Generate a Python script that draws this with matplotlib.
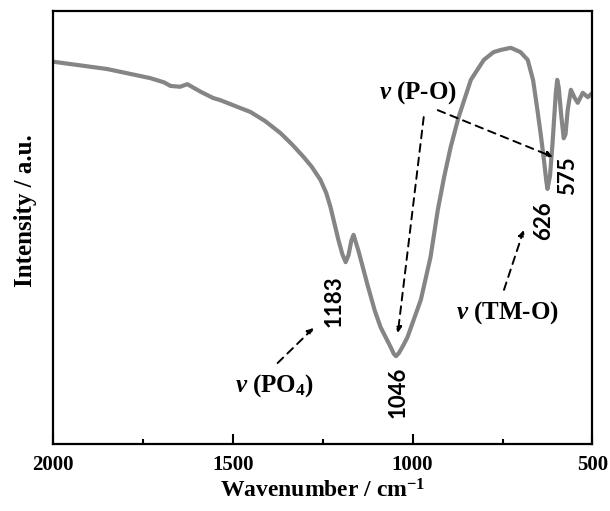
import numpy as np
import matplotlib
matplotlib.use("Agg")
from matplotlib import pyplot as plt
from matplotlib.ticker import MultipleLocator

plt.rcParams['font.family'] = 'Liberation Serif'
plt.rcParams['font.weight'] = 'bold'
plt.rcParams['axes.labelweight'] = 'bold'
plt.rcParams['mathtext.fontset'] = 'custom'
plt.rcParams['mathtext.rm'] = 'Liberation Serif:bold'
plt.rcParams['mathtext.it'] = 'Liberation Serif:italic:bold'
plt.rcParams['mathtext.bf'] = 'Liberation Serif:bold'

# FTIR spectrum, read point by point
wavenumber = [2000, 1849, 1729, 1690, 1673, 1646, 1626, 1590, 1554, 1534, 1479, 1451,
              1410, 1367, 1335, 1303, 1280, 1256, 1240, 1228, 1206, 1195, 1186, 1178,
              1170, 1164, 1150, 1125, 1105, 1089, 1061, 1052, 1046, 1038, 1025, 1014,
              977, 950, 930, 912, 894, 872, 838, 802, 775, 755, 727, 700, 680,
              665, 653, 643, 635, 628, 625, 618, 611, 602, 598, 594, 587, 580,
              575, 569, 560, 550, 541, 527, 513, 500]
intensity = [88.3, 86.6, 84.5, 83.5, 82.7, 82.5, 83.1, 81.4, 79.9, 79.4, 77.6, 76.7,
             74.6, 71.8, 69.2, 66.3, 64.0, 61.0, 58.0, 54.7, 47.1, 43.8, 42.0, 43.6,
             47.0, 48.3, 44.5, 36.7, 30.8, 27.0, 22.4, 20.8, 20.3, 21.0, 22.9, 24.7,
             33.3, 43.2, 54.0, 61.8, 68.6, 75.5, 84.1, 88.7, 90.5, 91.0, 91.5, 90.5, 88.7,
             84.0, 77.1, 71.0, 65.6, 60.5, 58.9, 62.0, 69.5, 81.0, 84.1, 82.4, 76.0, 70.6,
             71.5, 77.1, 81.8, 80.0, 78.8, 81.1, 80.1, 81.1]

peak_positions = [1183, 1046, 626, 575]

fig = plt.figure(figsize=(6.10, 5.11), dpi=100)
ax = fig.add_axes([0.0864, 0.1311, 0.8849, 0.8474])

ax.plot(wavenumber, intensity, color='#858585', lw=3.0, solid_joinstyle='round',
        solid_capstyle='round')

ax.set_xlim(2000, 500)
ax.set_ylim(0, 100)
ax.xaxis.set_major_locator(MultipleLocator(500))
ax.xaxis.set_minor_locator(MultipleLocator(250))
ax.tick_params(axis='x', which='major', direction='in', length=7, width=1.5,
               labelsize=15, pad=8)
ax.tick_params(axis='x', which='minor', direction='in', length=3.5, width=1.5)
ax.tick_params(axis='y', left=False, labelleft=False)
for side in ax.spines.values():
    side.set_linewidth(1.6)

ax.set_xlabel(r'Wavenumber / cm$^{-1}$', fontsize=17, fontweight='bold', labelpad=3)
fig.text(0.041, 0.587, 'Intensity / a.u.', rotation=90, fontsize=18,
         fontweight='bold', ha='center', va='center')

# peak positions, rotated
num_font = dict(family='Lato', weight='bold', fontsize=16, rotation=90,
                ha='center', va='center')
label_xy = {1183: (1217, 33.0), 1046: (1039, 12.0), 626: (635, 51.5), 575: (568, 61.9)}
for p in peak_positions:
    ax.text(*label_xy[p], str(p), **num_font)

# band assignments
ax.text(986, 81.1, r'$\nu$ (P-O)', fontsize=18, ha='center', va='center')
ax.text(1384, 13.6, r'$\nu$ (PO$_4$)', fontsize=18, ha='center', va='center')
ax.text(735, 30.3, r'$\nu$ (TM-O)', fontsize=18, ha='center', va='center')

arrow = dict(arrowstyle='-|>', linestyle=(0, (4, 3)), color='k', lw=1.4,
             mutation_scale=9, shrinkA=0, shrinkB=0)
ax.annotate('', xy=(1041, 25.6), xytext=(969, 75.5), arrowprops=arrow)
ax.annotate('', xy=(610, 66.3), xytext=(930, 77.1), arrowprops=arrow)
ax.annotate('', xy=(1275, 26.8), xytext=(1375, 18.7), arrowprops=arrow)
ax.annotate('', xy=(691, 49.4), xytext=(746, 35.6), arrowprops=arrow)

fig.savefig('out.png', dpi=100)
